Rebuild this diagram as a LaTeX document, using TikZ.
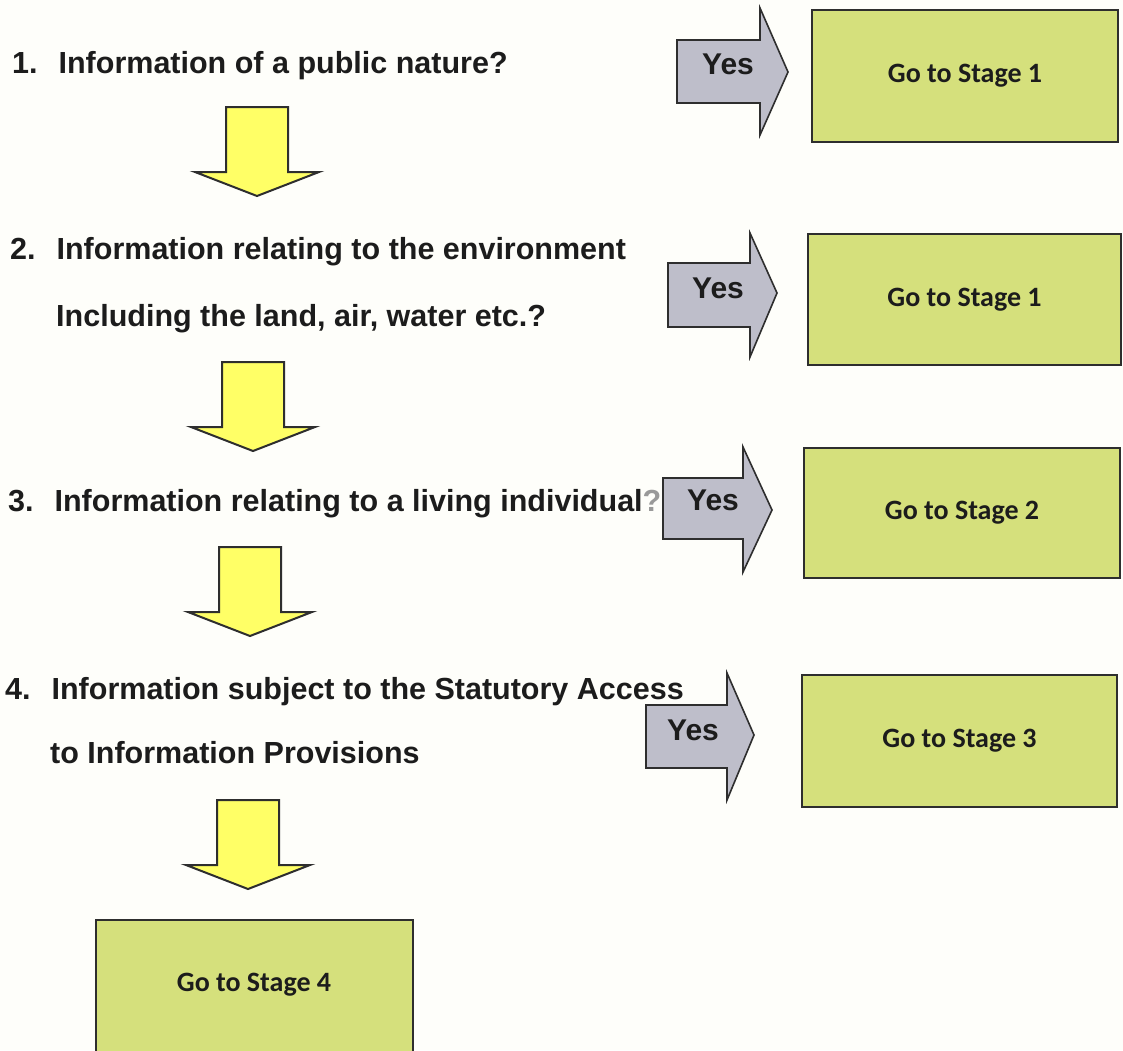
\documentclass[tikz,border=0pt]{standalone}
\usepackage{fontspec}
\setmainfont{Liberation Sans}
\newfontfamily\boxfont{Carlito}
\definecolor{bgc}{HTML}{FEFEFA}
\definecolor{txt}{HTML}{1C1C1C}
\definecolor{yelfill}{HTML}{FFFF66}
\definecolor{grayfill}{HTML}{BEBECA}
\definecolor{greenfill}{HTML}{D5E07C}
\definecolor{edge}{HTML}{2E2E2E}
\tikzset{
  qtext/.style={anchor=base west, inner sep=0pt, font=\fontsize{30.5}{36}\selectfont\bfseries, text=txt},
  yestext/.style={inner sep=0pt, font=\fontsize{30}{36}\selectfont\bfseries, text=txt},
  stagebox/.style={draw=edge, line width=1.8pt, fill=greenfill, inner sep=0pt, font=\boxfont\fontsize{28}{32}\selectfont\bfseries, text=txt},
  yesarrow/.style={draw=edge, line width=1.6pt, fill=grayfill, line join=miter},
  downarrow/.style={draw=edge, line width=2pt, fill=yelfill, line join=miter},
  pics/yeldown/.style={code={
    \draw[downarrow] (-31,0) -- (31,0) -- (31,65) -- (62,65) -- (0,89) -- (-62,65) -- (-31,65) -- cycle;
  }}
}
\begin{document}
\begin{tikzpicture}[x=1pt,y=-1pt]
\fill[bgc] (0,0) rectangle (1123,1050);
\useasboundingbox (0,0) rectangle (1123,1050);

% question texts
\node[qtext] (q1) at (12,73) {1.\hspace{21pt}Information of a public nature?};
\node[qtext] (q2) at (10,259) {2.\hspace{21pt}Information relating to the environment};
\node[qtext] (q2b) at (56,326) {Including the land, air, water etc.?};
\node[qtext] (q3) at (8,511) {3.\hspace{21pt}Information relating to a living individual\textcolor{gray!80}{?}};
\node[qtext] (q4) at (5,699) {4.\hspace{21pt}Information subject to the Statutory Access};
\node[qtext] (q4b) at (50,763) {to Information Provisions};

% yellow down arrows
\pic (d1) at (257,107) {yeldown};
\pic (d2) at (253,362) {yeldown};
\pic (d3) at (250,547) {yeldown};
\pic (d4) at (248,800) {yeldown};

% gray yes arrows
\draw[yesarrow] (677,40) -- (760,40) -- (760,8) -- (788,72) -- (760,135) -- (760,103) -- (677,103) -- cycle;
\node[yestext] (y1) at (728,64) {Yes};
\draw[yesarrow] (668,263) -- (750,263) -- (750,233) -- (777,293) -- (750,357) -- (750,327) -- (668,327) -- cycle;
\node[yestext] (y2) at (718,288) {Yes};
\draw[yesarrow] (663,478) -- (743,478) -- (743,447) -- (772,510) -- (743,572) -- (743,539) -- (663,539) -- cycle;
\node[yestext] (y3) at (713,500) {Yes};
\draw[yesarrow] (646,705) -- (727,705) -- (727,673) -- (754,735) -- (727,800) -- (727,768) -- (646,768) -- cycle;
\node[yestext] (y4) at (693,730) {Yes};

% stage boxes
\node[stagebox, minimum width=306pt, minimum height=132pt] (s1) at (965,76) {Go to Stage 1};
\node[stagebox, minimum width=313pt, minimum height=131pt] (s2) at (964.5,299.5) {Go to Stage 1};
\node[stagebox, minimum width=316pt, minimum height=130pt] (s3) at (962,513) {Go to Stage 2};
\node[stagebox, minimum width=315pt, minimum height=132pt] (s4) at (959.5,741) {Go to Stage 3};
\node[stagebox, minimum width=317pt, minimum height=140pt] (s5) at (254.5,990) {};
\node[inner sep=0pt, font=\boxfont\fontsize{28}{32}\selectfont\bfseries, text=txt] (s5t) at (254,985) {Go to Stage 4};
\end{tikzpicture}
\end{document}
